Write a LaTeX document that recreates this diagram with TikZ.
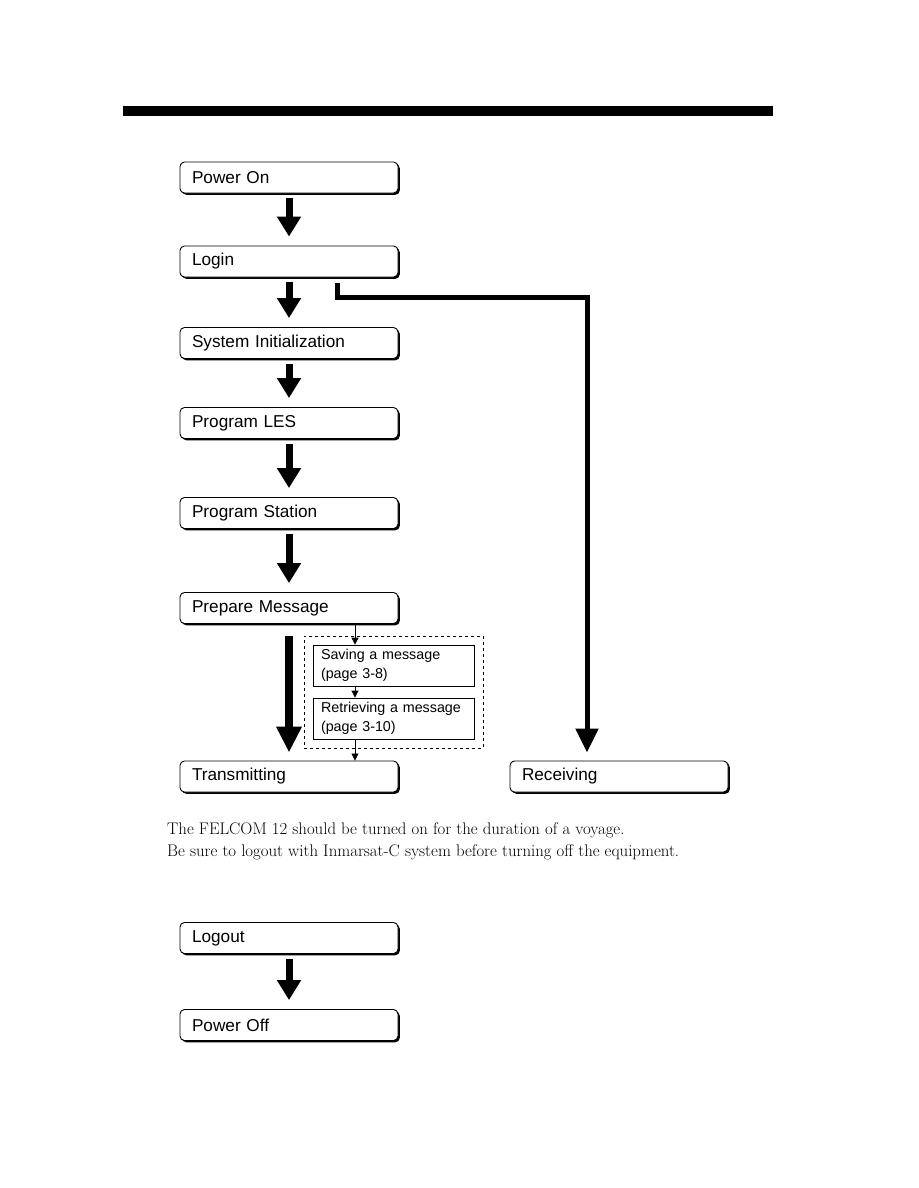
\documentclass[tikz,border=0pt]{standalone}
\usepackage{fontspec}
\newfontfamily\boxfont{Liberation Sans}
\usetikzlibrary{arrows.meta,shadows,calc}
\tikzset{
  flowbox/.style={draw, line width=0.9pt, rounded corners=4.5pt, fill=white,
    minimum width=218pt, minimum height=31pt, text width=194pt, inner xsep=12pt,
    align=left, font=\boxfont\fontsize{17.2}{19}\selectfont,
    drop shadow={shadow xshift=1.8pt, shadow yshift=-1.8pt, opacity=1, fill=black}},
  smallbox/.style={draw, line width=0.8pt, fill=white,
    minimum width=161pt, minimum height=41pt, text width=145pt, inner xsep=8pt,
    align=left, font=\boxfont\fontsize{14.3}{18.5}\selectfont},
  bigarrow/.style={line width=7pt, -{Triangle[width=23pt,length=20pt]},
    shorten <=5pt, shorten >=9pt},
  longarrow/.style={line width=8pt, -{Triangle[width=24pt,length=26pt]}},
  branch/.style={line width=5pt, -{Triangle[width=22pt,length=24pt]}},
  thinarrow/.style={line width=0.8pt, -{Triangle[width=7pt,length=7pt]}},
  grpbox/.style={draw, dashed, line width=0.8pt, minimum width=179pt, minimum height=112pt},
  note/.style={anchor=west, inner sep=0pt, font=\fontsize{16.8}{19}\selectfont}
}
\begin{document}
\begin{tikzpicture}[x=1pt,y=-1pt]
\useasboundingbox (0,0) rectangle (918,1188);
\fill[white] (0,0) rectangle (918,1188);
\fill[black] (123,106) rectangle (773,116);

\node[flowbox] (pon) at (289,177.5) {Power On};
\node[flowbox] (login) at (289,261.5) {Login};
\node[flowbox] (sys) at (289,343) {System Initialization};
\node[flowbox] (les) at (289,423) {Program LES};
\node[flowbox] (sta) at (289,513) {Program Station};
\node[flowbox] (prep) at (289,608) {Prepare Message};
\node[flowbox] (tx) at (289,776.5) {Transmitting};
\node[flowbox] (rx) at (619,776.5) {Receiving};
\node[flowbox] (lout) at (289,938) {Logout};
\node[flowbox] (poff) at (289,1025) {Power Off};

\node[grpbox] (grp) at (393.5,692) {};
\node[smallbox] (save) at (393.5,665.5) {Saving a message\\(page 3-8)};
\node[smallbox] (retr) at (393.5,718.5) {Retrieving a message\\(page 3-10)};

\draw[bigarrow] (pon) -- (login);
\draw[bigarrow] (login) -- (sys);
\draw[bigarrow] (sys) -- (les);
\draw[bigarrow] (les) -- (sta);
\draw[bigarrow] (sta) -- (prep);
\draw[longarrow, shorten <=12pt, shorten >=8pt] (prep) -- (tx);
\draw[bigarrow] (lout) -- (poff);

\coordinate (bstart) at (337,283);
\coordinate (bcorner) at (587,297);
\draw[branch] (bstart) |- (bcorner) -- ([yshift=8pt]bcorner |- rx.north);

\coordinate (thinx) at (355,0);
\draw[thinarrow] (prep.south -| thinx) -- (save.north -| thinx);
\draw[thinarrow] (save.south -| thinx) -- (retr.north -| thinx);
\draw[thinarrow] (retr.south -| thinx) -- (tx.north -| thinx);

\node[note] (n1) at (167,830) {The FELCOM 12 should be turned on for the duration of a voyage.};
\node[note] (n2) at (167,852) {Be sure to logout with Inmarsat-C system before turning off the equipment.};
\end{tikzpicture}
\end{document}
